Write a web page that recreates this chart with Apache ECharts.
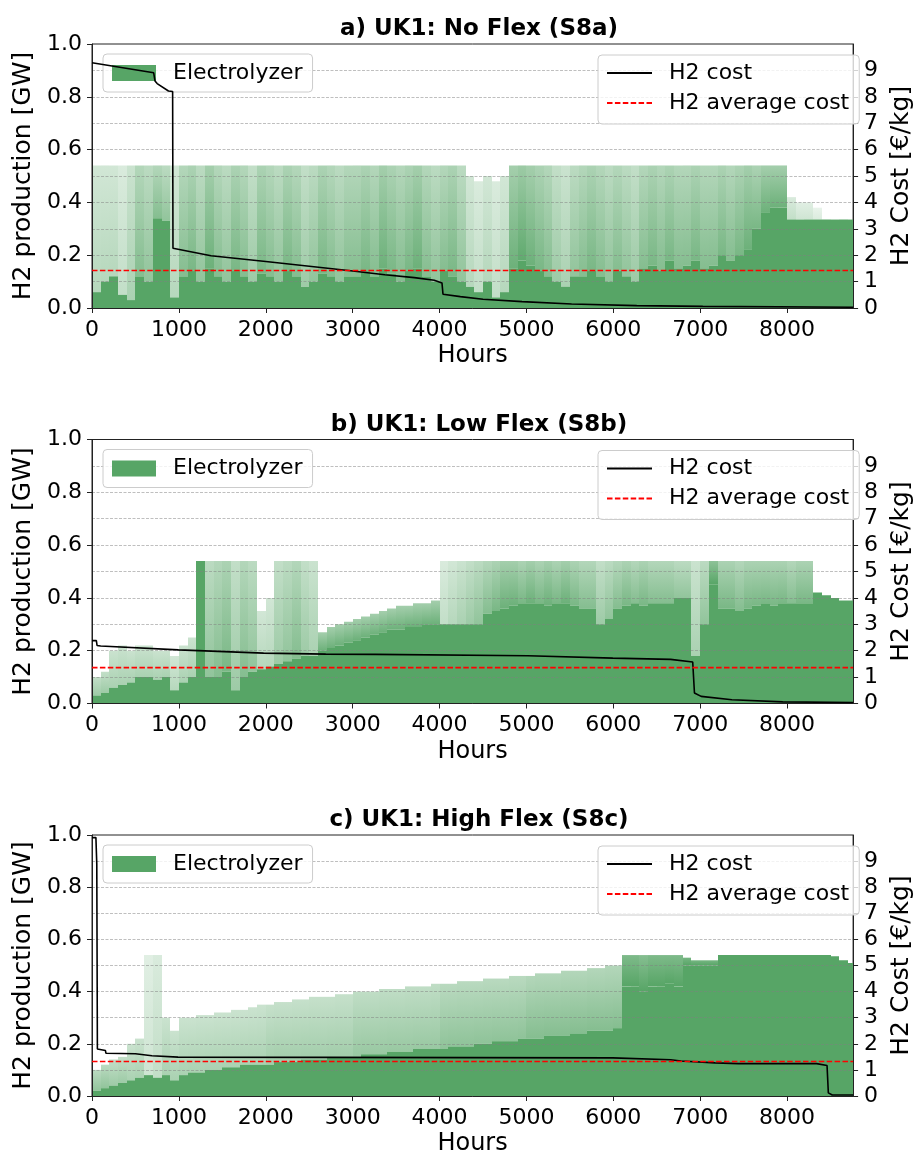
<!DOCTYPE html>
<html>
<head>
<meta charset="utf-8">
<title>UK1 electrolyzer production and H2 cost</title>
<script src="https://cdn.jsdelivr.net/npm/echarts@6/dist/echarts.min.js"></script>
<style>
  html, body { margin: 0; padding: 0; background: #fff; }
  #chart { width: 922px; height: 1157px; }
</style>
</head>
<body>
<div id="chart"></div>
<script>
// year axis and the 100 h bins the hourly electrolyzer output is read in
const yearHours = 8760;
const binHours = 100;
const xTicks = [0, 1000, 2000, 3000, 4000, 5000, 6000, 7000, 8000];
const prodTicks = [0, 0.2, 0.4, 0.6, 0.8, 1.0];
const costTicks = [0, 1, 2, 3, 4, 5, 6, 7, 8, 9];

const titles = ['a) UK1: No Flex (S8a)', 'b) UK1: Low Flex (S8b)', 'c) UK1: High Flex (S8c)'];

// a) No Flex: level filled every hour, highest hour in the bin, share of hours reaching above
const solidA = [
  0.06, 0.10, 0.12, 0.05, 0.03, 0.12, 0.10, 0.34, 0.33, 0.04,
  0.12, 0.14, 0.10, 0.15, 0.12, 0.10, 0.14, 0.12, 0.10, 0.13,
  0.12, 0.10, 0.14, 0.12, 0.08, 0.10, 0.13, 0.12, 0.10, 0.12,
  0.12, 0.14, 0.12, 0.15, 0.13, 0.10, 0.14, 0.15, 0.12, 0.10,
  0.14, 0.12, 0.10, 0.08, 0.06, 0.10, 0.04, 0.06, 0.15, 0.18,
  0.16, 0.14, 0.12, 0.10, 0.08, 0.12, 0.12, 0.14, 0.12, 0.10,
  0.14, 0.12, 0.10, 0.15, 0.16, 0.14, 0.18, 0.15, 0.16, 0.18,
  0.15, 0.16, 0.20, 0.18, 0.20, 0.22, 0.30, 0.36, 0.38, 0.38,
  0.335, 0.335, 0.335, 0.335, 0.335, 0.335, 0.335, 0.335
];
const peakA = [
  0.54, 0.54, 0.54, 0.54, 0.54, 0.54, 0.54, 0.54, 0.54, 0.54,
  0.54, 0.54, 0.54, 0.54, 0.54, 0.54, 0.54, 0.54, 0.54, 0.54,
  0.54, 0.54, 0.54, 0.54, 0.54, 0.54, 0.54, 0.54, 0.54, 0.54,
  0.54, 0.54, 0.54, 0.54, 0.54, 0.54, 0.54, 0.54, 0.54, 0.54,
  0.54, 0.54, 0.54, 0.50, 0.48, 0.50, 0.48, 0.50, 0.54, 0.54,
  0.54, 0.54, 0.54, 0.54, 0.54, 0.54, 0.54, 0.54, 0.54, 0.54,
  0.54, 0.54, 0.54, 0.54, 0.54, 0.54, 0.54, 0.54, 0.54, 0.54,
  0.54, 0.54, 0.54, 0.54, 0.54, 0.54, 0.54, 0.54, 0.54, 0.54,
  0.42, 0.40, 0.40, 0.38, 0.335, 0.335, 0.335, 0.335
];
const shareA = [
  0.30, 0.30, 0.30, 0.25, 0.35, 0.50, 0.45, 0.50, 0.45, 0.30,
  0.50, 0.55, 0.45, 0.60, 0.50, 0.45, 0.55, 0.50, 0.40, 0.55,
  0.50, 0.45, 0.55, 0.50, 0.40, 0.45, 0.55, 0.50, 0.45, 0.50,
  0.50, 0.55, 0.50, 0.60, 0.55, 0.50, 0.55, 0.60, 0.50, 0.45,
  0.50, 0.55, 0.45, 0.30, 0.25, 0.30, 0.25, 0.30, 0.60, 0.65,
  0.60, 0.55, 0.50, 0.40, 0.35, 0.45, 0.50, 0.55, 0.50, 0.45,
  0.50, 0.45, 0.40, 0.50, 0.55, 0.50, 0.55, 0.50, 0.50, 0.55,
  0.50, 0.50, 0.55, 0.50, 0.55, 0.60, 0.55, 0.60, 0.60, 0.60,
  0.25, 0.20, 0.20, 0.15, 0, 0, 0, 0
];
const costA = [
  [0, 9.29], [710, 8.91], [725, 8.6], [750, 8.5], [880, 8.22], [928, 8.2], [932, 2.26],
  [1370, 1.98], [2000, 1.76], [2950, 1.42], [3370, 1.26], [3710, 1.15], [3940, 1.05],
  [4028, 0.95], [4040, 0.52], [4240, 0.43], [4500, 0.33], [4950, 0.24], [5520, 0.15],
  [6270, 0.09], [7030, 0.06], [8760, 0.03]
];
const avgCostA = 1.42;

// b) Low Flex
const solidB = [
  0.03, 0.04, 0.06, 0.07, 0.08, 0.10, 0.10, 0.09, 0.10, 0.05,
  0.08, 0.10, 0.54, 0.10, 0.10, 0.12, 0.05, 0.10, 0.12, 0.13,
  0.14, 0.15, 0.16, 0.17, 0.18, 0.18, 0.20, 0.21, 0.22, 0.23,
  0.24, 0.25, 0.26, 0.27, 0.28, 0.28, 0.29, 0.29, 0.30, 0.30,
  0.30, 0.30, 0.30, 0.30, 0.30, 0.34, 0.35, 0.36, 0.37, 0.38,
  0.38, 0.38, 0.37, 0.38, 0.38, 0.37, 0.36, 0.36, 0.30, 0.32,
  0.36, 0.37, 0.38, 0.37, 0.38, 0.38, 0.38, 0.40, 0.40, 0.18,
  0.30, 0.45, 0.36, 0.36, 0.35, 0.36, 0.37, 0.38, 0.37, 0.38,
  0.38, 0.38, 0.38, 0.42, 0.41, 0.40, 0.39, 0.39
];
const peakB = [
  0.10, 0.12, 0.20, 0.22, 0.20, 0.22, 0.22, 0.20, 0.20, 0.18,
  0.22, 0.25, 0.54, 0.54, 0.54, 0.54, 0.54, 0.54, 0.54, 0.35,
  0.40, 0.54, 0.54, 0.54, 0.54, 0.54, 0.27, 0.29, 0.30, 0.31,
  0.32, 0.33, 0.34, 0.35, 0.36, 0.37, 0.37, 0.38, 0.38, 0.39,
  0.54, 0.54, 0.54, 0.54, 0.54, 0.54, 0.54, 0.54, 0.54, 0.54,
  0.54, 0.54, 0.54, 0.54, 0.54, 0.54, 0.54, 0.54, 0.54, 0.54,
  0.54, 0.54, 0.54, 0.54, 0.54, 0.54, 0.54, 0.54, 0.54, 0.54,
  0.54, 0.54, 0.54, 0.54, 0.54, 0.54, 0.54, 0.54, 0.54, 0.54,
  0.54, 0.54, 0.54, 0.42, 0.41, 0.40, 0.39, 0.39
];
const shareB = [
  0.40, 0.40, 0.35, 0.35, 0.35, 0.35, 0.35, 0.35, 0.35, 0.30,
  0.35, 0.35, 0, 0.45, 0.50, 0.55, 0.40, 0.50, 0.45, 0.30,
  0.30, 0.40, 0.45, 0.50, 0.40, 0.35, 0.60, 0.60, 0.60, 0.60,
  0.60, 0.60, 0.60, 0.60, 0.60, 0.60, 0.60, 0.60, 0.60, 0.60,
  0.25, 0.30, 0.35, 0.40, 0.45, 0.50, 0.55, 0.60, 0.60, 0.55,
  0.60, 0.55, 0.60, 0.55, 0.60, 0.55, 0.50, 0.50, 0.40, 0.45,
  0.50, 0.55, 0.50, 0.55, 0.50, 0.50, 0.50, 0.45, 0.45, 0.35,
  0.45, 0.75, 0.55, 0.55, 0.50, 0.55, 0.55, 0.55, 0.55, 0.55,
  0.50, 0.55, 0.55, 0.30, 0, 0, 0, 0
];
const costB = [
  [0, 2.38], [50, 2.38], [58, 2.2], [100, 2.18], [995, 2.03], [1975, 1.91], [2690, 1.87],
  [3260, 1.86], [5016, 1.81], [5995, 1.72], [6660, 1.67], [6914, 1.57], [6934, 0.4],
  [7011, 0.27], [7365, 0.14], [7950, 0.06], [8760, 0.04]
];
const avgCostB = 1.36;

// c) High Flex
const solidC = [
  0.02, 0.03, 0.04, 0.05, 0.06, 0.07, 0.08, 0.07, 0.08, 0.06,
  0.08, 0.09, 0.09, 0.10, 0.10, 0.11, 0.11, 0.12, 0.12, 0.12,
  0.12, 0.13, 0.13, 0.13, 0.14, 0.14, 0.14, 0.15, 0.15, 0.15,
  0.15, 0.16, 0.16, 0.16, 0.17, 0.17, 0.17, 0.18, 0.18, 0.18,
  0.18, 0.19, 0.19, 0.19, 0.20, 0.20, 0.21, 0.21, 0.21, 0.22,
  0.22, 0.22, 0.23, 0.23, 0.23, 0.24, 0.24, 0.25, 0.25, 0.25,
  0.26, 0.42, 0.42, 0.40, 0.42, 0.42, 0.43, 0.42, 0.50, 0.50,
  0.50, 0.50, 0.54, 0.54, 0.54, 0.54, 0.54, 0.54, 0.54, 0.54,
  0.54, 0.54, 0.54, 0.54, 0.54, 0.535, 0.52, 0.51
];
const peakC = [
  0.10, 0.12, 0.14, 0.15, 0.20, 0.22, 0.54, 0.54, 0.30, 0.25,
  0.30, 0.30, 0.31, 0.31, 0.32, 0.32, 0.33, 0.33, 0.34, 0.35,
  0.35, 0.36, 0.36, 0.37, 0.37, 0.38, 0.38, 0.38, 0.39, 0.39,
  0.40, 0.40, 0.40, 0.41, 0.41, 0.41, 0.42, 0.42, 0.42, 0.43,
  0.43, 0.43, 0.44, 0.44, 0.44, 0.45, 0.45, 0.45, 0.46, 0.46,
  0.46, 0.47, 0.47, 0.47, 0.48, 0.48, 0.48, 0.49, 0.49, 0.50,
  0.50, 0.54, 0.54, 0.54, 0.54, 0.54, 0.54, 0.54, 0.53, 0.52,
  0.52, 0.52, 0.54, 0.54, 0.54, 0.54, 0.54, 0.54, 0.54, 0.54,
  0.54, 0.54, 0.54, 0.54, 0.54, 0.535, 0.52, 0.51
];
const shareC = [
  0.45, 0.45, 0.40, 0.40, 0.35, 0.35, 0.20, 0.25, 0.35, 0.35,
  0.35, 0.35, 0.35, 0.35, 0.35, 0.35, 0.35, 0.35, 0.35, 0.35,
  0.38, 0.38, 0.38, 0.38, 0.38, 0.38, 0.38, 0.38, 0.38, 0.38,
  0.42, 0.42, 0.42, 0.42, 0.42, 0.42, 0.42, 0.42, 0.42, 0.42,
  0.46, 0.46, 0.46, 0.46, 0.46, 0.46, 0.46, 0.46, 0.46, 0.46,
  0.50, 0.50, 0.50, 0.50, 0.50, 0.50, 0.50, 0.50, 0.50, 0.50,
  0.50, 0.85, 0.85, 0.80, 0.85, 0.85, 0.85, 0.85, 0.90, 0.90,
  0.90, 0.90, 0, 0, 0, 0, 0, 0, 0, 0,
  0, 0, 0, 0, 0, 0, 0, 0
];
const costC = [
  [0, 9.9], [45, 9.9], [55, 8.9], [62, 1.8], [155, 1.74], [160, 1.64], [500, 1.62],
  [690, 1.54], [990, 1.49], [2690, 1.48], [5995, 1.46], [6660, 1.39], [6780, 1.34],
  [7170, 1.27], [7440, 1.24], [8340, 1.24], [8345, 1.17], [8460, 1.17], [8475, 0.12],
  [8520, 0.04], [8760, 0.04]
];
const avgCostC = 1.32;

const panels = [
  { solid: solidA, peak: peakA, share: shareA, cost: costA, avg: avgCostA },
  { solid: solidB, peak: peakB, share: shareB, cost: costB, avg: avgCostB },
  { solid: solidC, peak: peakC, share: shareC, cost: costC, avg: avgCostC }
];

// layout
const gridTops = [44, 439.5, 835];
const plotLeft = 92;
const plotWidth = 774;
const plotHeight = 264;
const FONT = 'DejaVu Sans';
const GREEN = '87,165,102';
const green = (a) => `rgba(${GREEN},${a})`;

const binData = (p) => p.solid.map((s, i) => [
  i * binHours, Math.min((i + 1) * binHours, yearHours), s, p.peak[i], p.share[i]
]);

// one bin: opaque part up to the level reached every hour, faded part up to the spikes
const renderBin = (params, api) => {
  const start = api.value(0), end = api.value(1);
  const solid = api.value(2), peak = api.value(3), share = api.value(4);
  const p0 = api.coord([start, 0]);
  const p1 = api.coord([end, 0]);
  const ySolid = api.coord([start, solid])[1];
  const yPeak = api.coord([start, peak])[1];
  // snap to whole pixels so neighbouring bins neither overlap nor leave seams
  const x = Math.round(p0[0]);
  const w = Math.round(p1[0]) - x;
  const children = [{
    type: 'rect',
    shape: { x: x, y: ySolid, width: w, height: p0[1] - ySolid },
    style: { fill: green(1) }
  }];
  if (peak > solid && share > 0) {
    children.push({
      type: 'rect',
      shape: { x: x, y: yPeak, width: w, height: ySolid - yPeak },
      style: {
        fill: new echarts.graphic.LinearGradient(0, 0, 0, 1, [
          { offset: 0, color: green(share * 0.9) },
          { offset: 1, color: green(Math.min(1, share * 1.45)) }
        ])
      }
    });
  }
  return { type: 'group', children: children };
};

const getOption = () => {
  const grid = [], xAxis = [], yAxis = [], series = [], title = [], legend = [];
  panels.forEach((p, i) => {
    const top = gridTops[i];
    grid.push({
      left: plotLeft, top: top, width: plotWidth, height: plotHeight,
      show: true, borderColor: '#222', borderWidth: 1, backgroundColor: 'transparent'
    });
    title.push({
      text: titles[i], left: plotLeft + plotWidth / 2, textAlign: 'center',
      top: top - 26, padding: 0,
      textStyle: { fontFamily: FONT, fontSize: 23, fontWeight: 'bold', color: '#000' }
    });
    xAxis.push({
      gridIndex: i, type: 'value', min: 0, max: yearHours,
      name: 'Hours', nameLocation: 'middle', nameGap: 36,
      nameTextStyle: { fontFamily: FONT, fontSize: 24, color: '#000' },
      axisLine: { show: true, onZero: false, lineStyle: { color: '#222', width: 1 } },
      axisTick: { show: true, length: 5, customValues: xTicks, lineStyle: { color: '#222' } },
      axisLabel: {
        customValues: xTicks, margin: 11, fontFamily: FONT, fontSize: 22, color: '#000',
        formatter: (v) => String(v)
      },
      splitLine: { show: false },
      z: 3
    });
    yAxis.push({
      gridIndex: i, type: 'value', min: 0, max: 1, interval: 0.2, position: 'left',
      name: 'H2 production [GW]', nameLocation: 'middle', nameGap: 55,
      nameTextStyle: { fontFamily: FONT, fontSize: 25, color: '#000' },
      axisLine: { show: true, onZero: false, lineStyle: { color: '#222', width: 1 } },
      axisTick: { show: true, length: 5, customValues: prodTicks, lineStyle: { color: '#222' } },
      axisLabel: {
        customValues: prodTicks, margin: 10, fontFamily: FONT, fontSize: 22, color: '#000',
        formatter: (v) => v.toFixed(1)
      },
      splitLine: { show: false },
      z: 3
    });
    yAxis.push({
      gridIndex: i, type: 'value', min: 0, max: 10, interval: 1, position: 'right',
      name: 'H2 Cost [€/kg]', nameLocation: 'middle', nameGap: 30, nameRotate: 90,
      nameTextStyle: { fontFamily: FONT, fontSize: 25, color: '#000' },
      axisLine: { show: true, onZero: false, lineStyle: { color: '#222', width: 1 } },
      axisTick: { show: true, length: 5, customValues: costTicks, lineStyle: { color: '#222' } },
      axisLabel: { customValues: costTicks, margin: 11, fontFamily: FONT, fontSize: 22, color: '#000' },
      splitLine: { show: true, lineStyle: { color: 'rgba(128,128,128,0.5)', width: 1, type: [3, 1.5] } },
      z: 3
    });
    legend.push({
      left: 103, top: top + 10, orient: 'horizontal', selectedMode: false,
      data: [{ name: 'Electrolyzer', icon: 'rect' }],
      itemWidth: 44, itemHeight: 16, padding: [8, 10, 8, 9],
      backgroundColor: 'rgba(255,255,255,0.8)', borderColor: '#ccc', borderWidth: 1, borderRadius: 4,
      textStyle: { fontFamily: FONT, fontSize: 22, color: '#000', padding: [0, 0, 0, 12] }
    });
    legend.push({
      left: 598, top: top + 11, orient: 'vertical', selectedMode: false,
      data: ['H2 cost', 'H2 average cost'],
      itemWidth: 45, itemHeight: 14, itemGap: 8, padding: [7, 10, 10, 8],
      itemStyle: { opacity: 0 },
      backgroundColor: 'rgba(255,255,255,0.8)', borderColor: '#ccc', borderWidth: 1, borderRadius: 4,
      textStyle: { fontFamily: FONT, fontSize: 22, color: '#000', padding: [0, 0, 0, 12] }
    });
    series.push({
      type: 'custom', name: 'Electrolyzer', xAxisIndex: i, yAxisIndex: 2 * i,
      data: binData(p), renderItem: renderBin, clip: true, silent: true, z: 1,
      encode: { x: [0, 1], y: [2, 3] },
      itemStyle: { color: green(1) }
    });
    series.push({
      type: 'line', name: 'H2 cost', xAxisIndex: i, yAxisIndex: 2 * i + 1,
      data: p.cost, symbol: 'none', silent: true, z: 5,
      lineStyle: { color: '#000', width: 1.6 }, itemStyle: { color: '#000' }
    });
    series.push({
      type: 'line', name: 'H2 average cost', xAxisIndex: i, yAxisIndex: 2 * i + 1,
      data: [[0, p.avg], [yearHours, p.avg]], symbol: 'none', silent: true, z: 6,
      lineStyle: { color: '#ff0000', width: 1.6, type: [5.5, 2.4] }, itemStyle: { color: '#ff0000' }
    });
  });
  return {
    animation: false,
    backgroundColor: '#fff',
    textStyle: { fontFamily: FONT },
    title, legend, grid, xAxis, yAxis, series
  };
};

const chart = echarts.init(document.getElementById('chart'), null, { renderer: 'canvas' });
chart.setOption(getOption());
window.addEventListener('resize', () => chart && chart.resize());
</script>
</body>
</html>
